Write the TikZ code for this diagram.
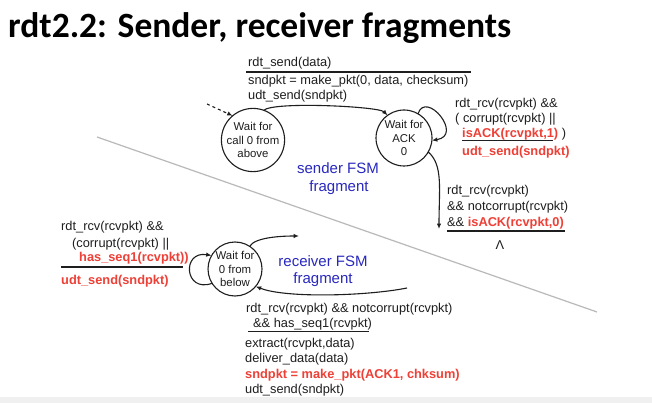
\documentclass[tikz,border=0pt]{standalone}
\usepackage{fontspec}
\setmainfont{Liberation Sans}
\newfontfamily\titlefont{Carlito}
\usetikzlibrary{arrows.meta}
\definecolor{fsmred}{RGB}{238,64,54}
\definecolor{fsmblue}{RGB}{40,40,190}
\definecolor{ink}{RGB}{30,30,30}
\begin{document}
\begin{tikzpicture}[x=1pt,y=-1pt,
  fsmstate/.style={circle, draw=ink, line width=1.1pt, minimum size=56pt, inner sep=0pt, outer sep=0pt, align=center, font=\fontsize{11.4}{13.5}\selectfont, text=ink},
  lbl/.style={anchor=base west, inner sep=0pt, font=\fontsize{12.8}{15}\selectfont, text=ink},
  redlbl/.style={lbl, text=fsmred, font=\fontsize{12.8}{15}\selectfont\bfseries},
  bluelbl/.style={anchor=base, inner sep=0pt, font=\fontsize{15}{18}\selectfont, text=fsmblue},
  seprule/.style={draw=ink, line width=1.5pt},
  conn/.style={draw=ink, line width=1.1pt, -{Latex[length=5.5pt,width=4.5pt]}},
  divider/.style={draw=gray!55, line width=1.2pt}]
\useasboundingbox (0,0) rectangle (652,403);
\fill[white] (0,0) rectangle (652,403);
\fill[gray!12] (0,397) rectangle (652,403);

% title
\node[anchor=base west, inner sep=0pt, font=\titlefont\fontsize{35.5}{40}\selectfont\bfseries, text=black] (title) at (8,38) {rdt2.2: Sender, receiver fragments};

% divider
\draw[divider] (97,137) -- (597,312);

% states
\node[fsmstate] (c0) at (253,140) {Wait for\\call 0 from\\above};
\node[fsmstate] (ack) at (404,138) {Wait for\\ACK\\0};
\node[fsmstate, minimum size=54pt] (rcv) at (235,269) {Wait for\\0 from\\below};

% free ends
\coordinate (dstart) at (207,104);
\coordinate (ackout) at (439,229);
\coordinate (rcvout) at (299,236);
\coordinate (rcvin) at (407,288);

% connectors
\draw[conn, dashed] (dstart) -- (c0.130);
\draw[conn] (c0.70) .. controls +(9,-9) and +(-9,-9) .. (ack.126);
\draw[conn] (ack.60) .. controls +(8,-24) and +(32,-5) .. (ack.-5);
\draw[conn] (ack.-30) .. controls +(15,13) and +(0,-40) .. (ackout);
\draw[conn] (rcv.212) .. controls +(-28,10) and +(-30,-5) .. (rcv.150);
\draw[conn] (rcv.57) .. controls +(5,-9) and +(-18,0) .. (rcvout);
\draw[conn] (rcvin) .. controls +(-40,8) and +(30,12) .. (rcv.-40);

% sender top label
\node[lbl] (t1) at (248,67) {rdt\_send(data)};
\draw[seprule] (246,72) -- (471,72);
\node[lbl] (t2) at (248,85) {sndpkt = make\_pkt(0, data, checksum)};
\node[lbl] (t3) at (248,100) {udt\_send(sndpkt)};

% ACK self-loop label
\node[lbl] (a1) at (455,107.5) {rdt\_rcv(rcvpkt) \&\&};
\node[lbl] (a2) at (455,122.5) {( corrupt(rcvpkt) ||};
\node[lbl] (a3) at (462,137.5) {\textcolor{fsmred}{\bfseries isACK(rcvpkt,1)} )};
\draw[seprule] (462,140.5) -- (553,140.5);
\node[redlbl] (a4) at (462,156) {udt\_send(sndpkt)};

% ACK exit label
\node[lbl] (b1) at (447,194.5) {rdt\_rcv(rcvpkt)};
\node[lbl] (b2) at (447,210.5) {\&\& notcorrupt(rcvpkt)};
\node[lbl] (b3) at (447,226.5) {\&\& \textcolor{fsmred}{\bfseries isACK(rcvpkt,0)}};
\draw[seprule] (447,231) -- (565,231);
\node[anchor=center, inner sep=0pt, font=\fontsize{12.8}{15}\selectfont, text=ink] (lam) at (500,245) {Λ};

% receiver self-loop label
\node[lbl] (c1) at (61,230.5) {rdt\_rcv(rcvpkt) \&\&};
\node[lbl] (c2) at (72,247.5) {(corrupt(rcvpkt) ||};
\node[redlbl] (c3) at (79,261.5) {has\_seq1(rcvpkt))};
\draw[seprule] (61,267) -- (183,267);
\node[redlbl] (c4) at (61,284.5) {udt\_send(sndpkt)};

% receiver bottom label
\node[lbl] (d1) at (246,312.5) {rdt\_rcv(rcvpkt) \&\& notcorrupt(rcvpkt)};
\node[lbl] (d2) at (253,327.5) {\&\& has\_seq1(rcvpkt)};
\draw[seprule] (248,331.5) -- (369,331.5);
\node[lbl] (d3) at (245,347.5) {extract(rcvpkt,data)};
\node[lbl] (d4) at (245,362.5) {deliver\_data(data)};
\node[redlbl] (d5) at (245,378) {sndpkt = make\_pkt(ACK1, chksum)};
\node[lbl] (d6) at (245,393.5) {udt\_send(sndpkt)};

% fragment labels
\node[bluelbl] (sf1) at (338,174) {sender FSM};
\node[bluelbl] (sf2) at (339,192) {fragment};
\node[bluelbl] (rf1) at (323,266) {receiver FSM};
\node[bluelbl] (rf2) at (323,283) {fragment};
\end{tikzpicture}
\end{document}
